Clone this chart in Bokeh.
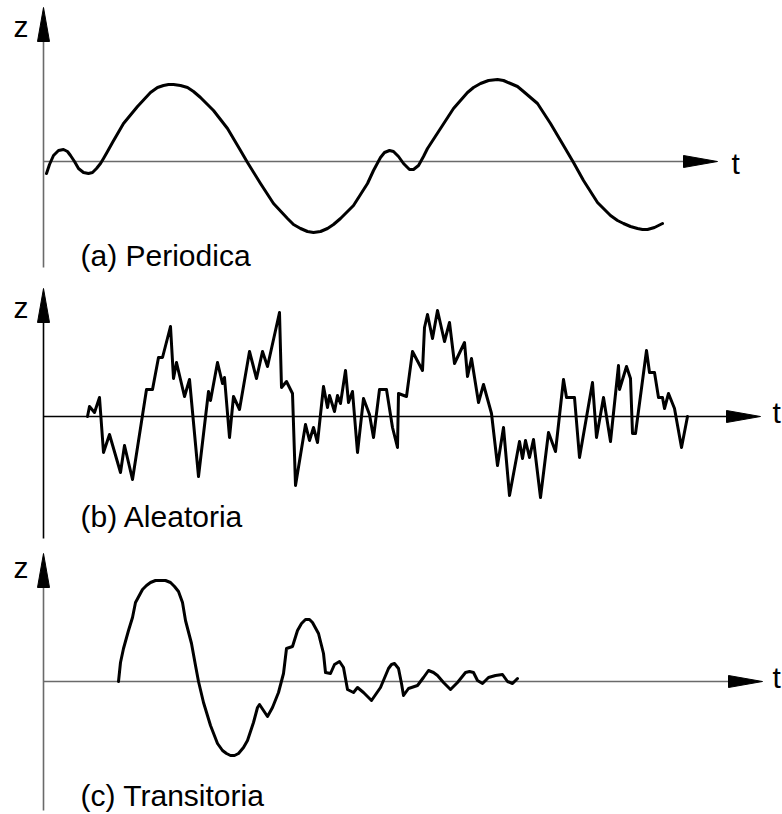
from bokeh.plotting import figure
from bokeh.layouts import column
from bokeh.models import Range1d, Label
from bokeh.embed import file_html
from bokeh.resources import INLINE

# ---------------- data (t, z) ----------------
# (a) Periodica
t_a = [3, 6, 10, 15, 20, 24, 27, 31, 35, 40, 45, 49, 53, 57, 60, 64, 69, 80, 94, 107,
       114, 120, 125, 130, 137, 144, 150, 157, 170, 184, 197, 204, 217, 230, 244, 250, 257, 264, 270, 277,
       284, 290, 297, 310, 324, 330, 337, 341, 346, 350, 355, 360, 366, 370, 375, 380, 384, 397, 410, 424,
       430, 437, 445, 454, 460, 467, 474, 480, 494, 507, 520, 530, 540, 554, 567, 574, 580, 587, 594, 599,
       604, 611, 619]
z_a = [-12, -3, 6, 11, 12, 10, 6, 0, -7, -11, -12, -11, -7, -2, 3, 10, 19, 38, 55, 69,
       74, 76, 77, 77, 76, 74, 70, 64, 51, 33, 11, -1, -22, -42, -57, -63, -67, -70, -71, -70,
       -67, -63, -57, -44, -22, -9, 4, 9, 11, 10, 5, -2, -8, -8, -4, 5, 13, 33, 53, 69,
       74, 78, 81, 82, 81, 78, 75, 70, 58, 38, 16, -1, -19, -41, -54, -59, -62, -65, -67, -68,
       -68, -66, -62]

# (b) Aleatoria
t_b = [44, 46, 51, 56, 60, 66, 77, 81, 89, 103,
       109, 115, 119, 127, 130, 133, 141, 146, 155, 165,
       167, 174, 179, 181, 186, 190, 196, 206, 213, 219,
       224, 236, 238, 243, 249, 252, 262, 266, 270, 274,
       280, 284, 286, 291, 294, 297, 302, 305, 309, 314,
       320, 326, 330, 336, 343, 349, 354, 355, 363, 369,
       379, 381, 384, 389, 394, 401, 406, 411, 421, 424,
       428, 435, 440, 448, 454, 460, 466, 476, 479, 482,
       486, 490, 497, 505, 512, 520, 523, 531, 536, 549,
       553, 560, 567, 575, 576, 583, 587, 589, 592, 603,
       606, 611, 615, 619, 621, 625, 631, 638, 644]
z_b = [0, 10, 4, 19, -36, -18, -56, -29, -63, 27,
       27, 59, 59, 90, 38, 54, 20, 37, -60, 25,
       16, 54, 33, 39, -21, 20, 7, 65, 38, 65,
       50, 104, 29, 35, 23, -69, -8, -24, -11, -26,
       30, 9, 21, 5, 21, 13, 46, 14, 25, -36,
       18, 2, -21, 27, 27, -11, -31, 23, 20, 65,
       46, 89, 102, 78, 106, 75, 94, 53, 74, 40,
       58, 14, 32, 3, -49, -11, -79, -25, -42, -24,
       -41, -23, -81, -16, -35, 37, 19, 19, -41, 34,
       -21, 19, -25, 51, 27, 50, 38, -17, -17, 66,
       44, 44, 19, 19, 8, 23, 8, -31, 0]

# (c) Transitoria
t_c = [75, 77, 80, 85, 89, 92, 99, 103, 107, 112, 117, 122, 127, 131,
       135, 139, 142, 148, 152, 155, 160, 167, 174, 179,
       183, 187, 191, 195, 200, 204, 210, 214, 216, 220, 224, 229, 235,
       240, 243, 249, 254, 258, 262, 266, 269, 275, 280, 282, 287,
       291, 296, 300, 304, 310, 314, 320, 328, 337, 345, 348, 351,
       355, 358, 360, 365, 374, 380, 385, 390, 394, 400, 407,
       414, 422, 426, 430, 434, 439, 445, 452, 459, 464, 469, 474]
z_c = [0, 19, 33, 51, 64, 79, 92, 96, 99, 101, 101, 101, 99, 95,
       90, 79, 61, 38, 16, 0, -21, -44, -62, -69,
       -72, -74, -74, -72, -66, -59, -41, -26, -23, -29, -35, -26, -11,
       8, 33, 35, 51, 58, 62, 62, 59, 48, 28, 9, 8,
       17, 20, 14, -8, -11, -6, -11, -19, -6, 13, 17, 18,
       13, -2, -14, -7, -4, 4, 11, 9, 6, -1, -8,
       -1, 9, 10, 9, 1, -2, 4, 6, 7, 0, -2, 3]

titles = ["(a) Periodica", "(b) Aleatoria", "(c) Transitoria"]

# ---------------- styling ----------------
W = 782
X0 = 43
FONT = "Liberation Sans"
FS = "30px"
HEAD_L = 34
HEAD_W = 12
CURVE_W = 3


def panel(h, zr, t, z, title, t_tip, z_tip, z_bot, axis_color, label_pos):
    p = figure(width=W, height=h, x_range=Range1d(-X0, W - X0), y_range=Range1d(*zr),
               output_backend="svg", toolbar_location=None, min_border=0,
               x_axis_type=None, y_axis_type=None)
    p.outline_line_color = None
    p.xgrid.visible = False
    p.ygrid.visible = False
    # axes lines
    p.segment(x0=[0, 0], y0=[0, z_bot], x1=[t_tip - HEAD_L + 2, 0], y1=[0, z_tip - HEAD_L + 2],
              line_color=axis_color, line_width=1.6)
    # arrow heads
    p.patch(x=[t_tip, t_tip - HEAD_L, t_tip - HEAD_L], y=[0, HEAD_W / 2, -HEAD_W / 2],
            fill_color="black", line_color="black", line_width=1)
    p.patch(x=[0, HEAD_W / 2, -HEAD_W / 2], y=[z_tip, z_tip - HEAD_L, z_tip - HEAD_L],
            fill_color="black", line_color="black", line_width=1)
    # curve
    p.line(t, z, line_color="black", line_width=CURVE_W, line_join="round", line_cap="round")
    # texts
    (zx, zy), (tx, ty), (lx, ly) = label_pos
    for txt, x, y in (("z", zx, zy), ("t", tx, ty), (title, lx, ly)):
        p.add_layout(Label(x=x, y=y, text=txt, text_font=FONT, text_font_size=FS,
                           text_color="black", text_baseline="alphabetic", text_align="left"))
    return p


pa = panel(280, (-119, 161), t_a, z_a, titles[0], 674, 154, -106, "#6a6a6a",
           ((-30, 135), (688, -2), (37, -94)))
pb = panel(265, (-129, 136), t_b, z_b, titles[1], 717, 128, -122, "black",
           ((-30, 109), (729, 4), (37, -100)))
pc = panel(269, (-133, 136), t_c, z_c, titles[2], 719, 128, -129, "#6a6a6a",
           ((-30, 114), (729, 4), (37, -114)))

layout = column(pa, pb, pc, spacing=0)
open("out.html", "w").write(file_html(layout, INLINE))
